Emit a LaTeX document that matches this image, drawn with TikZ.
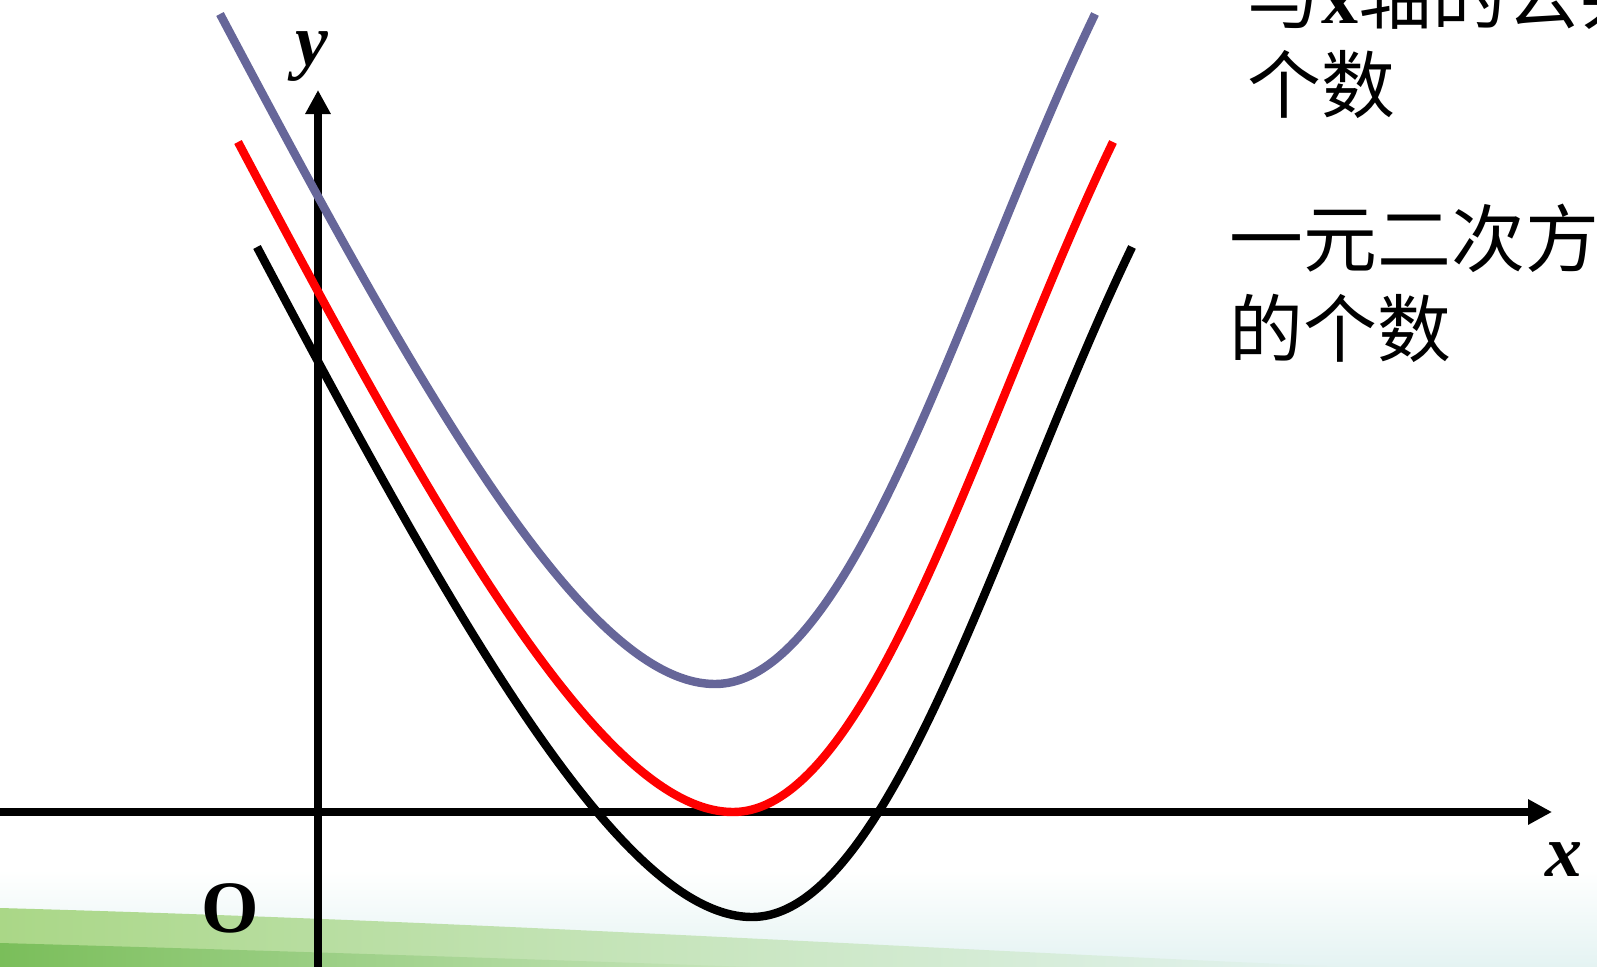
\documentclass[tikz,border=0pt]{standalone}
\usepackage{fontspec}
\setmainfont{Liberation Serif}
\newfontfamily\cjk{Noto Sans CJK SC}
\usetikzlibrary{arrows.meta}
\definecolor{pgray}{RGB}{102,102,153}
\definecolor{pred}{RGB}{255,0,0}
\definecolor{bgbot}{RGB}{228,243,242}
\definecolor{swlight}{RGB}{170,215,135}
\definecolor{swdark}{RGB}{122,190,90}

\tikzset{
  axis/.style={line width=2.1pt, -{Triangle[length=0.24cm,width=0.24cm]}},
  curve/.style={line width=2.4pt},
  mathlbl/.style={font=\fontsize{21}{25}\selectfont\bfseries\itshape, inner sep=0pt},
  note/.style={font=\cjk\fontsize{21}{25}\selectfont, inner sep=0pt, anchor=base west},
}
% one parabola, given colour and vertex
\newcommand{\parab}[3]{%
  \draw[curve, #1, shift={(#2,#3)}] (-495,-670) .. controls (-295,-292) and (-130,0) .. (0,0)
    .. controls (140,0) and (250,-400) .. (380,-670);
}

\begin{document}
\begin{tikzpicture}[x=0.01cm, y=-0.01cm]
  \clip (0,0) rectangle (1597,967);

  % Bottom band
  \shade[top color=white, bottom color=bgbot] (0,870) rectangle (1597,967);
  \shade[left color=swlight, right color=bgbot] (0,908) .. controls (500,922) and (900,948) .. (1350,967) -- (0,967) -- cycle;
  \shade[left color=swdark, right color=swlight!50!bgbot] (0,943) .. controls (250,950) and (500,958) .. (750,967) -- (0,967) -- cycle;

  % Axes
  \coordinate (xs) at (0,812);
  \coordinate (xe) at (1552,812);
  \coordinate (ys) at (318,967);
  \coordinate (ye) at (318,90);
  \draw[axis] (xs) -- (xe);
  \draw[axis] (ys) -- (ye);

  \node[mathlbl, anchor=base] (ylab) at (312,66) {y};
  \node[mathlbl, anchor=base] (xlab) at (1564,876) {x};
  \node[font=\fontsize{21}{25}\selectfont\bfseries, inner sep=0pt] (orig) at (230,908) {O};

  % Parabolas
  \parab{pgray}{715}{684}
  \parab{pred}{733}{812}
  \parab{black}{752}{917}

  % Notes on the right
  \node[note] (t1a) at (1247,24) {与{\rmfamily\bfseries x}轴的公共点};
  \node[note] (t1b) at (1247,113) {个数};
  \node[note] (t2a) at (1229,267) {一元二次方程的根};
  \node[note] (t2b) at (1229,357) {的个数};
\end{tikzpicture}
\end{document}
